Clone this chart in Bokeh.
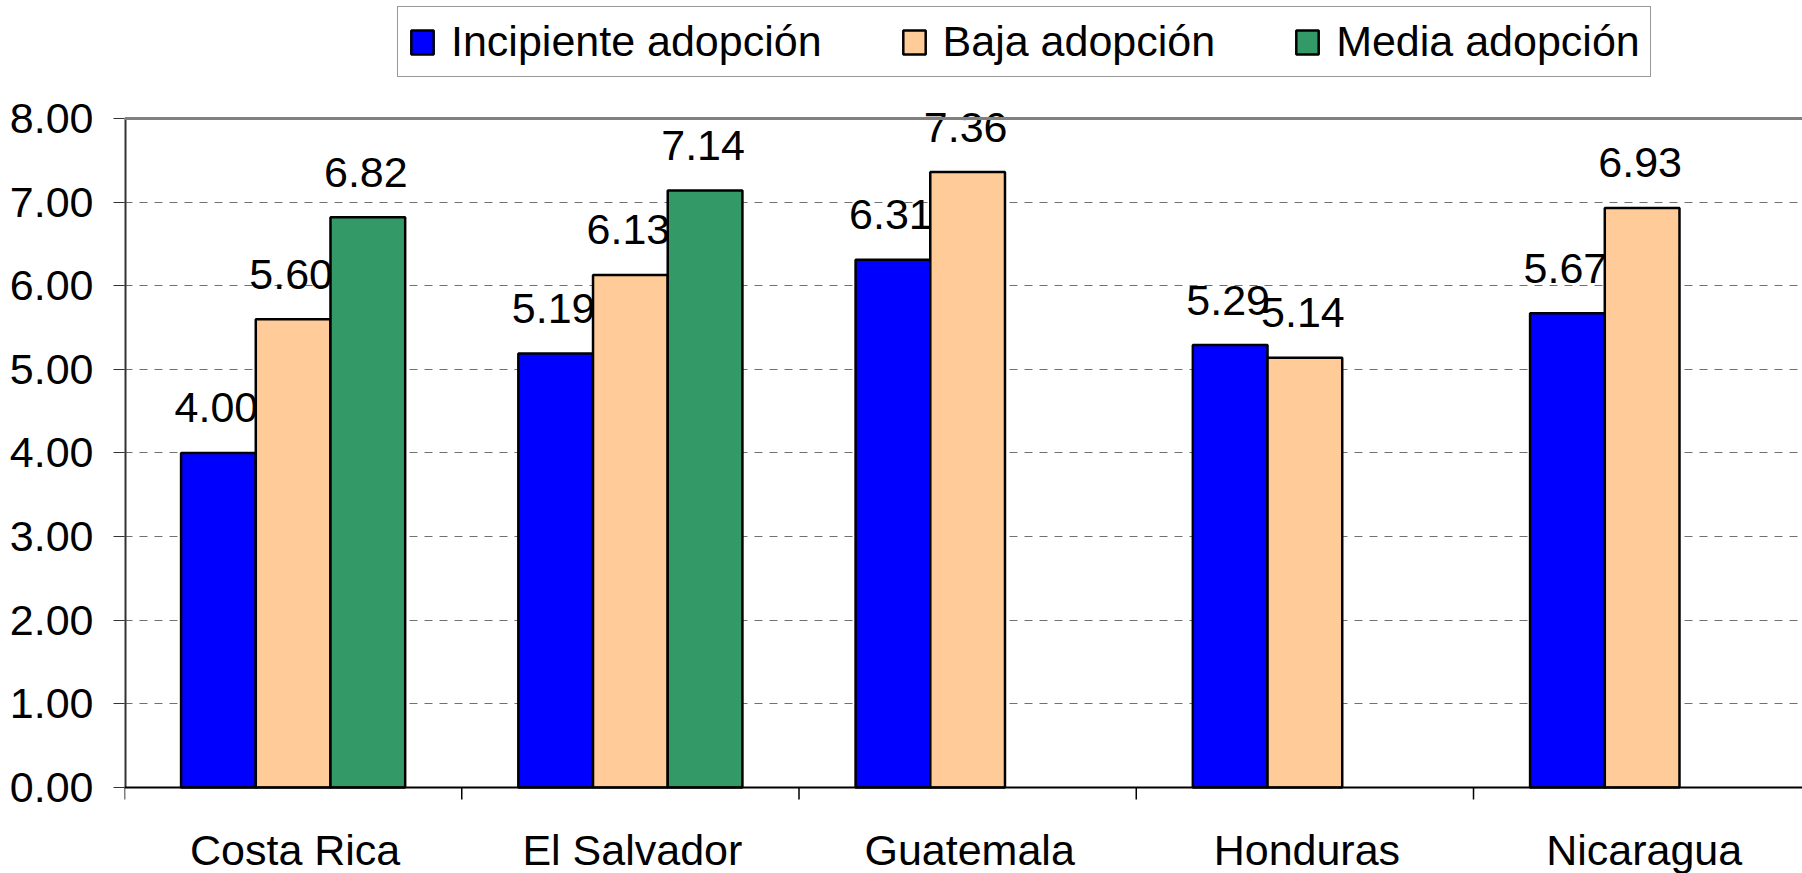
import math
from bokeh.plotting import figure
from bokeh.models import (ColumnDataSource, FixedTicker, Legend, LegendItem, Span,
                          Range1d, NumeralTickFormatter)
from bokeh.core.properties import value
from bokeh.embed import file_html
from bokeh.resources import INLINE

# ---------------- data ----------------
countries = ["Costa Rica", "El Salvador", "Guatemala", "Honduras", "Nicaragua"]
series_names = ["Incipiente adopción", "Baja adopción", "Media adopción"]
incipiente = [4.00, 5.19, 6.31, 5.29, 5.67]
baja = [5.60, 6.13, 7.36, 5.14, 6.93]
media = [6.82, 7.14, None, None, None]
y_ticks = [0, 1, 2, 3, 4, 5, 6, 7, 8]
y_max = 8

colors = ["#0000FF", "#FFCC99", "#339966"]
FONT = "Liberation Sans"
FS = "43px"
BAR_W = 0.2215

W, H = 1802, 873
# the frame covers the page top to bottom so that the legend, labels above 8.00
# and the category labels below 0.00 are drawn freely
p = figure(width=W, height=H, output_backend="svg", toolbar_location=None,
           x_range=Range1d(0, 4.9755), y_range=Range1d(-1.0284, 9.411),
           min_border_left=124, min_border_right=0, min_border_top=0,
           min_border_bottom=0, background_fill_color="white",
           border_fill_color="white", outline_line_color=None)

series = [incipiente, baja, media]

# value labels first (they sit behind neighbouring bars, as in the reference)
for k, vals in enumerate(series):
    xs = [i + 0.5 + (k - 1) * BAR_W for i, v in enumerate(vals) if v is not None]
    ys = [v for v in vals if v is not None]
    src = ColumnDataSource(dict(x=xs, y=ys, t=[f"{v:.2f}" for v in ys]))
    p.text(x="x", y="y", text="t", source=src, text_align="center",
           text_baseline="alphabetic", y_offset=-45, x_offset=-2,
           text_font=value(FONT), text_font_size=FS, text_color="black")

renderers = []
for k, vals in enumerate(series):
    xs = [i + 0.5 + (k - 1) * BAR_W for i, v in enumerate(vals) if v is not None]
    ys = [v for v in vals if v is not None]
    src = ColumnDataSource(dict(x=xs, top=ys))
    r = p.vbar(x="x", top="top", width=BAR_W, bottom=0, source=src,
               fill_color=colors[k], line_color="black", line_width=2.5)
    renderers.append(r)

# grid
p.xgrid.grid_line_color = None
p.ygrid.ticker = FixedTicker(ticks=[1, 2, 3, 4, 5, 6, 7])
p.ygrid.grid_line_color = "#707070"
p.ygrid.grid_line_dash = "8 7"
p.ygrid.grid_line_width = 1

# top border of plot area (at 8.00)
p.add_layout(Span(location=y_max, dimension="width", line_color="#808080", line_width=3))
# category axis line (at 0.00)
p.add_layout(Span(location=0, dimension="width", line_color="black", line_width=2))

# left axis line only from 0 to 8.00
p.segment(x0=[0], y0=[0], x1=[0], y1=[y_max], line_color="#333333", line_width=4)

# category boundary ticks and category labels
bounds = list(range(len(countries) + 1))
p.ray(x=bounds, y=[0] * len(bounds), length=12, length_units="screen",
      angle=-math.pi / 2, line_color="black", line_width=1.5)
csrc = ColumnDataSource(dict(x=[i + 0.5 for i in range(len(countries))],
                             y=[0] * len(countries), t=countries))
p.text(x="x", y="y", text="t", source=csrc, text_align="center",
       text_baseline="alphabetic", y_offset=63, x_offset=2,
       text_font=value(FONT), text_font_size=FS, text_color="black")

# y axis
p.yaxis.ticker = FixedTicker(ticks=y_ticks)
p.yaxis.formatter = NumeralTickFormatter(format="0.00")
p.yaxis.major_tick_out = 11
p.yaxis.major_tick_in = 0
p.yaxis.minor_tick_line_color = None
p.yaxis.major_label_standoff = 20
p.yaxis.major_label_text_font = FONT
p.yaxis.major_label_text_font_size = FS
p.yaxis.major_label_text_color = "black"
p.yaxis.axis_line_color = None
p.yaxis.major_tick_line_color = "#333333"

p.xaxis.visible = False

# legend
legend = Legend(items=[LegendItem(label=n, renderers=[r]) for n, r in zip(series_names, renderers)],
                orientation="horizontal", location=(273, 796),
                label_text_font=FONT, label_text_font_size=FS, label_text_color="black",
                glyph_width=28, glyph_height=30, label_standoff=15, spacing=78,
                padding=10, margin=0, border_line_color="#333333", border_line_width=1,
                background_fill_color="white", background_fill_alpha=1)
p.add_layout(legend, "center")

open("out.html", "w").write(file_html(p, INLINE))
